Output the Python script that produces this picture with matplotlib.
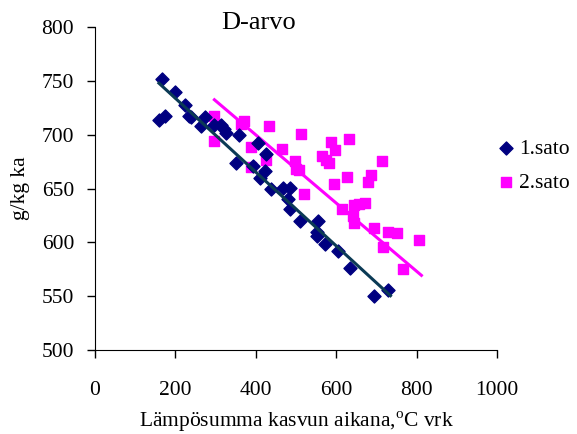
import numpy as np
import matplotlib
matplotlib.use('Agg')
import matplotlib.pyplot as plt

plt.rcParams['font.family'] = 'Liberation Serif'
plt.rcParams['mathtext.fontset'] = 'custom'
plt.rcParams['mathtext.rm'] = 'Liberation Serif'

# 1.sato
x1 = [166, 159, 173, 200, 224, 233, 238, 263, 274, 296, 314, 320, 327, 357, 350,
      392, 405, 426, 422, 411, 438, 468, 486, 481, 486, 509, 551, 554, 552, 572,
      604, 634, 695, 730]
y1 = [752, 714, 718, 740, 728, 718, 717, 708, 717, 709, 709, 705, 702, 700, 674,
      671, 692, 682, 666, 660, 650, 651, 651, 640, 631, 620, 610, 620, 606, 599,
      592, 576, 550, 556]
# 2.sato
x2 = [297, 297, 370, 362, 434, 387, 387, 425, 466, 512, 497, 500, 507, 520, 586,
      597, 565, 574, 583, 632, 626, 595, 615, 645, 657, 672, 643, 645, 678, 687,
      714, 695, 728, 752, 716, 767, 807]
y2 = [718, 694, 713, 710, 708, 689, 670, 677, 687, 701, 676, 668, 667, 645, 693,
      686, 680, 677, 674, 696, 661, 654, 631, 635, 636, 637, 625, 618, 656, 663,
      676, 613, 610, 609, 596, 575, 602]

# linear trend lines (slope, intercept)
trend1 = (-0.343, 802.6)
trend2 = (-0.317, 826.8)

fig = plt.figure(figsize=(5.77, 4.34), dpi=100)
ax = fig.add_axes([95/577, 1-350/434, (497-95)/577, (350-27.3)/434])

ax.scatter(x1, y1, marker='D', s=44, color='#000080', zorder=3, label='1.sato')
ax.scatter(x2, y2, marker='s', s=50, color='#FF00FF', zorder=2, label='2.sato')

for xs, (k, b), c, z in [(x1, trend1, '#0b3a55', 4), (x2, trend2, '#FF00FF', 2)]:
    xx = np.array([min(xs), max(xs) + 5])
    ax.plot(xx, k*xx + b, color=c, lw=2.2, zorder=z)

ax.set_xlim(0, 1000)
ax.set_ylim(500, 800)
ax.set_xticks(range(0, 1001, 200))
ax.set_yticks(range(500, 801, 50))
ax.spines['top'].set_visible(False)
ax.spines['right'].set_visible(False)
ax.tick_params(direction='out', length=6, labelsize=15.5, width=1)
ax.tick_params(axis='x', pad=16)
ax.tick_params(axis='y', pad=9)
ax.set_xlabel('Lämpösumma kasvun aikana,$^{\\mathrm{o}}$C vrk', fontsize=15.5, labelpad=7)
ax.set_ylabel('g/kg ka', fontsize=15.5, labelpad=8)

fig.text(259/577, 1-23/434, 'D-arvo', fontsize=19, ha='center', va='center')

ax.legend(loc='center left', bbox_to_anchor=(0.963, 0.57), frameon=False,
          fontsize=15.5, handletextpad=0.1, labelspacing=0.65, borderaxespad=0.2,
          handlelength=1.0)

fig.savefig('out.png', dpi=100)
